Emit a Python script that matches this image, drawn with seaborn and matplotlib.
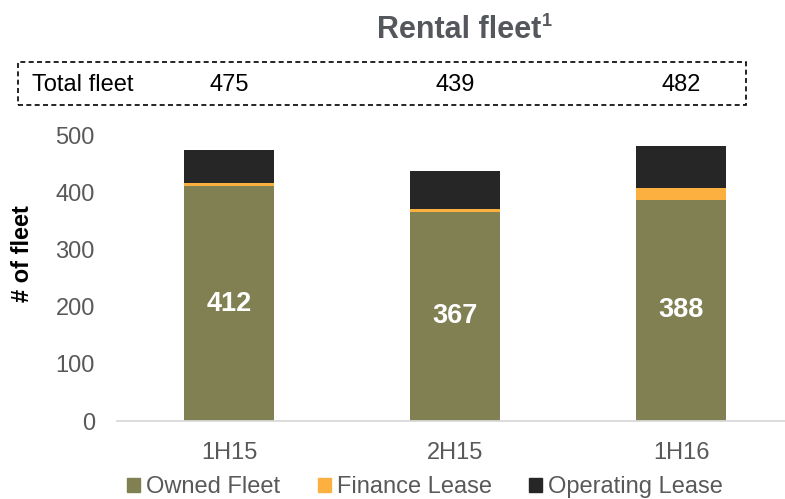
"""Rental fleet stacked bar chart."""

import matplotlib
matplotlib.use("Agg")
import matplotlib.pyplot as plt
from matplotlib.patches import Rectangle, Patch
import pandas as pd
import seaborn as sns

periods = ["1H15", "2H15", "1H16"]
owned = [412, 367, 388]
finance = [5, 5, 20]
operating = [58, 67, 74]
totals = [475, 439, 482]

C_OWNED = "#808053"
C_FIN = "#FBB040"
C_OPER = "#262626"
GREY = "#595959"
TITLE_GREY = "#54575B"

sns.set_style("white")
plt.rcParams["font.family"] = ["Liberation Sans", "DejaVu Sans"]

df = pd.DataFrame({"period": periods, "owned": owned,
                   "finance": finance, "operating": operating})
df["lvl2"] = df["owned"] + df["finance"]
df["lvl3"] = df["lvl2"] + df["operating"]

W, H = 785, 499
fig = plt.figure(figsize=(W / 100, H / 100), dpi=100)
ax = fig.add_axes([117 / W, 1 - 421 / H, 668 / W, 285 / H])

# stacked look: draw the tallest level first, then overlay lower ones
for col, c in [("lvl3", C_OPER), ("lvl2", C_FIN), ("owned", C_OWNED)]:
    sns.barplot(data=df, x="period", y=col, color=c, width=0.4,
                saturation=1, ax=ax, linewidth=0)

for i, v in enumerate(owned):
    ax.text(i, v / 2, str(v), ha="center", va="center", color="white",
            fontsize=19.5, fontweight="bold")

ax.set_ylim(0, 500)
ax.set_xlim(-0.496, 2.46)
ax.set_yticks(range(0, 501, 100))
ax.set_xlabel("")
ax.set_ylabel("")
ax.tick_params(axis="both", labelsize=17, colors=GREY, length=0)
ax.tick_params(axis="y", pad=16)
ax.tick_params(axis="x", pad=15)
sns.despine(ax=ax, left=True, top=True, right=True)
ax.spines["bottom"].set_color("#D9D9D9")
ax.spines["bottom"].set_linewidth(1.3)

fig.text(23 / W, 1 - 254 / H, "# of fleet", rotation=90, ha="center",
         va="center", fontsize=17, fontweight="bold", color="black")

# title with superscript
fig.text(459 / W, 1 - 30 / H, "Rental fleet", ha="center", va="center",
         fontsize=22, fontweight="bold", color=TITLE_GREY)
fig.text(547 / W, 1 - 22 / H, "1", ha="center", va="center",
         fontsize=13, fontweight="bold", color=TITLE_GREY)

# dashed total fleet box
box = Rectangle((18 / W, 1 - 105 / H), (746 - 18) / W, 43 / H,
                transform=fig.transFigure, fill=False, linestyle=(0, (3, 2)),
                linewidth=1.2, edgecolor="black")
fig.patches.append(box)
fig.text(32 / W, 1 - 85 / H, "Total fleet", ha="left", va="center",
         fontsize=17, color="black")
for i, t in enumerate(totals):
    xf = fig.transFigure.inverted().transform(ax.transData.transform((i, 0)))[0]
    fig.text(xf, 1 - 85 / H, str(t), ha="center", va="center",
             fontsize=17, color="black")

handles = [Patch(color=C_OWNED), Patch(color=C_FIN), Patch(color=C_OPER)]
leg = fig.legend(handles, ["Owned Fleet", "Finance Lease", "Operating Lease"],
                 loc="center", bbox_to_anchor=(425 / W, 1 - 487 / H), ncol=3,
                 frameon=False, fontsize=17, handlelength=0.55,
                 handleheight=0.55, handletextpad=0.25, columnspacing=1.6)
for t in leg.get_texts():
    t.set_color(GREY)

fig.savefig("out.png", dpi=100)
